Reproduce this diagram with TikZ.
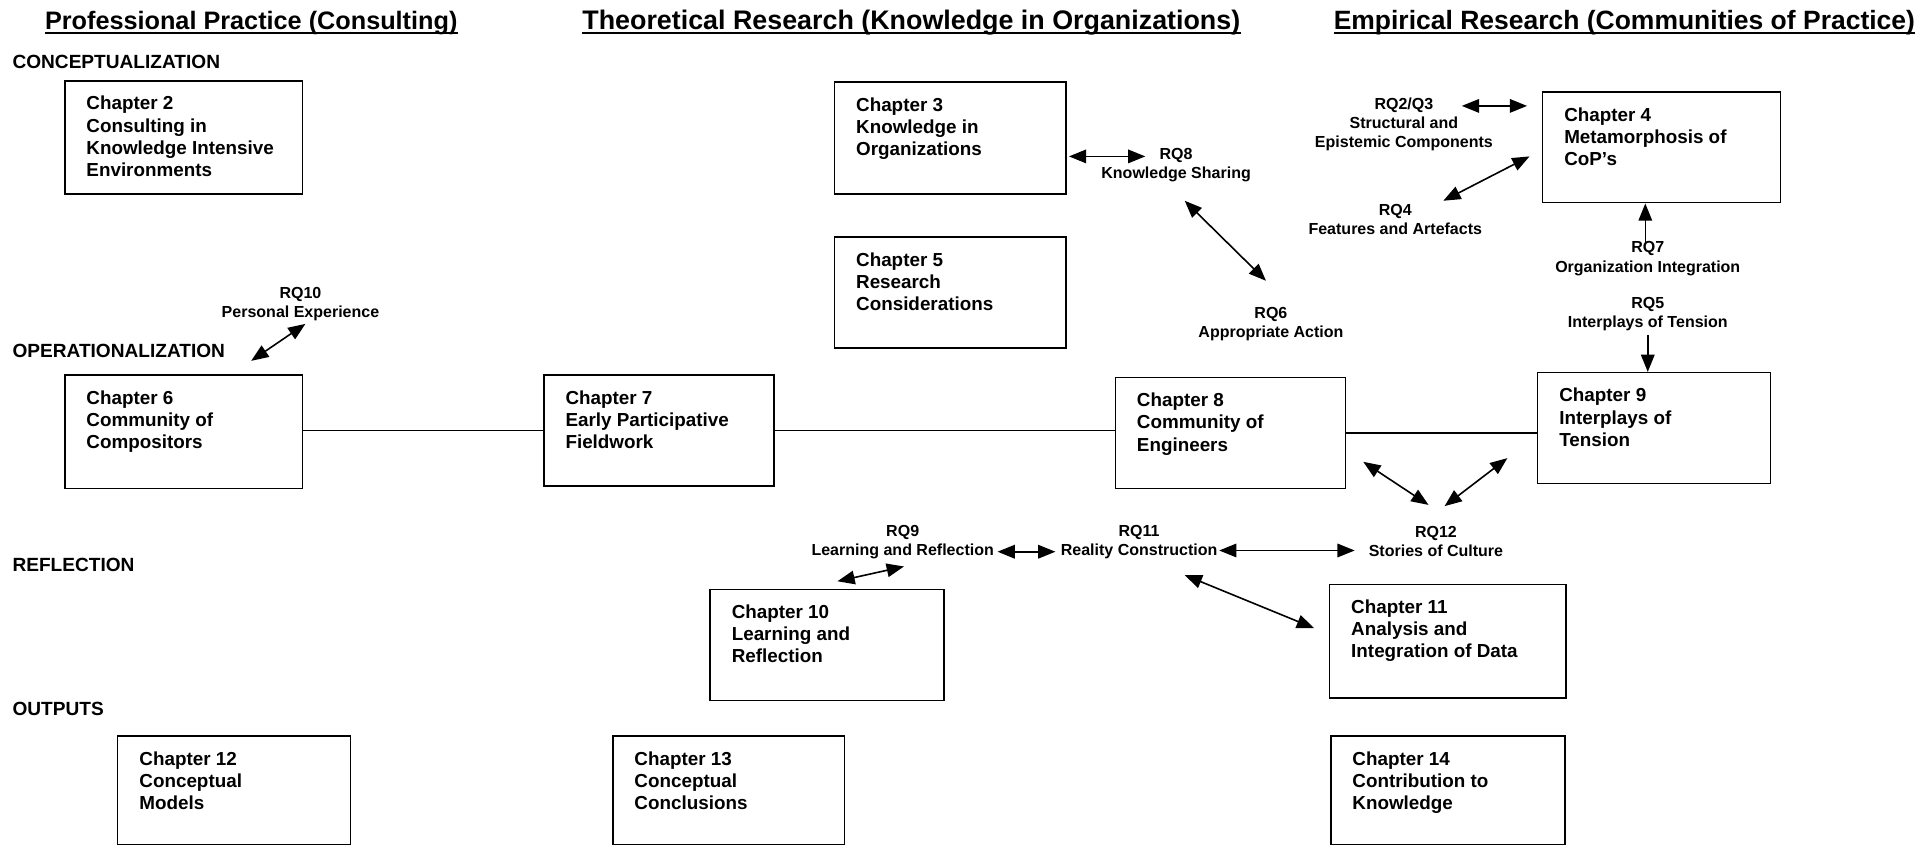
\documentclass[tikz,border=0pt]{standalone}
\usepackage{fontspec}
\setmainfont{Liberation Sans}
\usetikzlibrary{arrows.meta}
\begin{document}
\begin{tikzpicture}[x=1pt,y=-1pt,
  chap/.style={draw, line width=1.2pt, inner sep=0pt, anchor=north west},
  ctext/.style={anchor=north west, align=left, inner sep=0pt, font=\fontsize{15.3}{18}\selectfont\bfseries},
  rq/.style={align=center, inner sep=0pt, font=\fontsize{13}{15.5}\selectfont\bfseries},
  phase/.style={anchor=west, inner sep=0pt, font=\fontsize{15.5}{17}\selectfont\bfseries},
  head/.style={inner sep=0pt, anchor=base, font=\fontsize{21.5}{25}\selectfont\bfseries},
  uline/.style={line width=1.5pt},
  dbl/.style={line width=1.3pt, {Triangle[length=14pt,width=11pt]}-{Triangle[length=14pt,width=11pt]}},
  sgl/.style={line width=1.3pt, -{Triangle[length=14pt,width=11pt]}},
  link/.style={line width=1.1pt}]
\useasboundingbox (0,0) rectangle (1568,686);

% headers
\node[head, font=\fontsize{20.5}{25}\selectfont\bfseries] (h1) at (204,24) {Professional Practice (Consulting)};
\node[head, font=\fontsize{21.8}{25}\selectfont\bfseries] (h2) at (740,24) {Theoretical Research (Knowledge in Organizations)};
\node[head] (h3) at (1319,24) {Empirical Research (Communities of Practice)};
\draw[uline] ([yshift=-3pt]h1.base west) -- ([yshift=-3pt]h1.base east);
\draw[uline] ([yshift=-3pt]h2.base west) -- ([yshift=-3pt]h2.base east);
\draw[uline] ([yshift=-3pt]h3.base west) -- ([yshift=-3pt]h3.base east);

% phases
\node[phase] (p1) at (10,50) {CONCEPTUALIZATION};
\node[phase] (p2) at (10,285) {OPERATIONALIZATION};
\node[phase] (p3) at (10,459) {REFLECTION};
\node[phase] (p4) at (10,576) {OUTPUTS};

% chapter boxes
\node[chap, minimum width=193pt, minimum height=92pt] (c2) at (52,65) {};
\node[chap, minimum width=188pt, minimum height=91pt] (c3) at (677,66) {};
\node[chap, minimum width=193pt, minimum height=90pt] (c4) at (1252,74) {};
\node[chap, minimum width=188pt, minimum height=90pt] (c5) at (677,192) {};
\node[chap, minimum width=193pt, minimum height=92pt] (c6) at (52,304) {};
\node[chap, minimum width=187pt, minimum height=90pt] (c7) at (441,304) {};
\node[chap, minimum width=187pt, minimum height=90pt] (c8) at (905,306) {};
\node[chap, minimum width=189pt, minimum height=90pt] (c9) at (1248,302) {};
\node[chap, minimum width=190pt, minimum height=90pt] (c10) at (576,478) {};
\node[chap, minimum width=192pt, minimum height=92pt] (c11) at (1079,474) {};
\node[chap, minimum width=189pt, minimum height=88pt] (c12) at (95,597) {};
\node[chap, minimum width=188pt, minimum height=88pt] (c13) at (497,597) {};
\node[chap, minimum width=190pt, minimum height=88pt] (c14) at (1080,597) {};

% chapter texts
\node[ctext] (t2) at ([shift={(18,13)}]c2.north west) {Chapter 2\\Consulting in\\Knowledge Intensive\\Environments};
\node[ctext] (t3) at ([shift={(18,13)}]c3.north west) {Chapter 3\\Knowledge in\\Organizations};
\node[ctext] (t4) at ([shift={(18,13)}]c4.north west) {Chapter 4\\Metamorphosis of\\CoP’s};
\node[ctext] (t5) at ([shift={(18,13)}]c5.north west) {Chapter 5\\Research\\Considerations};
\node[ctext] (t6) at ([shift={(18,13)}]c6.north west) {Chapter 6\\Community of\\Compositors};
\node[ctext] (t7) at ([shift={(18,13)}]c7.north west) {Chapter 7\\Early Participative\\Fieldwork};
\node[ctext] (t8) at ([shift={(18,13)}]c8.north west) {Chapter 8\\Community of\\Engineers};
\node[ctext] (t9) at ([shift={(18,13)}]c9.north west) {Chapter 9\\Interplays of\\Tension};
\node[ctext] (t10) at ([shift={(18,13)}]c10.north west) {Chapter 10\\Learning and\\Reflection};
\node[ctext] (t11) at ([shift={(18,13)}]c11.north west) {Chapter 11\\Analysis and\\Integration of Data};
\node[ctext] (t12) at ([shift={(18,13)}]c12.north west) {Chapter 12\\Conceptual\\Models};
\node[ctext] (t13) at ([shift={(18,13)}]c13.north west) {Chapter 13\\Conceptual\\Conclusions};
\node[ctext] (t14) at ([shift={(18,13)}]c14.north west) {Chapter 14\\Contribution to\\Knowledge};

% research questions
\node[rq] (rq8) at (955,134) {RQ8\\Knowledge Sharing};
\node[rq] (rq23) at (1140,101) {RQ2/Q3\\Structural and\\Epistemic Components};
\node[rq] (rq4) at (1133,178) {RQ4\\Features and Artefacts};
\node[rq] (rq6) at (1032,263) {RQ6\\Appropriate Action};
\node[rq] (rq7) at (1338,210) {RQ7\\Organization Integration};
\node[rq] (rq5) at (1338,255) {RQ5\\Interplays of Tension};
\node[rq] (rq10) at (244,247) {RQ10\\Personal Experience};
\node[rq] (rq9) at (733,440) {RQ9\\Learning and Reflection};
\node[rq] (rq11) at (925,440) {RQ11\\Reality Construction};
\node[rq] (rq12) at (1166,440) {RQ12\\Stories of Culture};

% connector ends
\coordinate (a1s) at (204,293); \coordinate (a1e) at (248,263);
\coordinate (a2s) at (868,127); \coordinate (a2e) at (930,127);
\coordinate (a3s) at (962,163); \coordinate (a3e) at (1028,228);
\coordinate (a4s) at (1187,86); \coordinate (a4e) at (1240,86);
\coordinate (a5s) at (1172,163); \coordinate (a5e) at (1242,127);
\coordinate (a6s) at (1336,198);
\coordinate (a7s) at (1338,272);
\coordinate (a8s) at (1107,375); \coordinate (a8e) at (1160,410);
\coordinate (a9s) at (1224,372); \coordinate (a9e) at (1173,411);
\coordinate (a10s) at (810,448); \coordinate (a10e) at (857,448);
\coordinate (a11s) at (990,447); \coordinate (a11e) at (1100,447);
\coordinate (a12s) at (680,472); \coordinate (a12e) at (734,460);
\coordinate (a13s) at (962,467); \coordinate (a13e) at (1067,510);

% arrows
\draw[dbl] (a1s) -- (a1e);
\draw[dbl] (a2s) -- (a2e);
\draw[dbl] (a3s) -- (a3e);
\draw[dbl] (a4s) -- (a4e);
\draw[dbl] (a5s) -- (a5e);
\draw[sgl] (a6s) -- (a6s |- c4.south);
\draw[sgl] (a7s) -- (a7s |- c9.north);
\draw[dbl] (a8s) -- (a8e);
\draw[dbl] (a9s) -- (a9e);
\draw[dbl] (a10s) -- (a10e);
\draw[dbl] (a11s) -- (a11e);
\draw[dbl] (a12s) -- (a12e);
\draw[dbl] (a13s) -- (a13e);

% horizontal links
\draw[link] (c6.east |- c7.west) -- (c7.west);
\draw[link] (c7.east) -- (c8.west |- c7.east);
\draw[link] (c8.east) -- (c9.west |- c8.east);
\end{tikzpicture}
\end{document}
